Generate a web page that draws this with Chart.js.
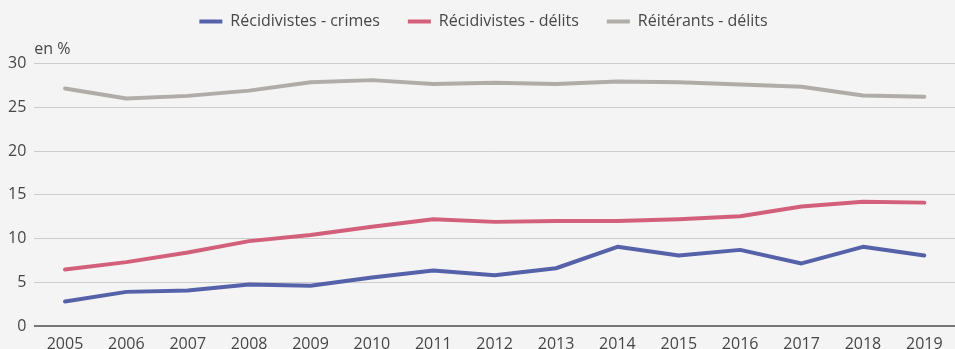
<!DOCTYPE html>
<html>
<head>
<meta charset="utf-8">
<script src="https://cdn.jsdelivr.net/npm/chart.js@4/dist/chart.umd.min.js"></script>
<style>
html,body{margin:0;padding:0;background:#f4f4f4;}
#wrap{width:955px;height:349px;position:relative;}
</style>
</head>
<body>
<div id="wrap"><canvas id="c"></canvas></div>
<script>
const years = ['2005','2006','2007','2008','2009','2010','2011','2012','2013','2014','2015','2016','2017','2018','2019'];
const recidivistesCrimes = [2.8, 3.9, 4.05, 4.75, 4.6, 5.55, 6.35, 5.8, 6.6, 9.05, 8.05, 8.7, 7.15, 9.05, 8.05];
const recidivistesDelits = [6.45, 7.3, 8.4, 9.7, 10.4, 11.35, 12.2, 11.9, 12.0, 12.0, 12.2, 12.55, 13.65, 14.2, 14.1];
const reiterantsDelits = [27.15, 26.0, 26.3, 26.9, 27.85, 28.1, 27.65, 27.8, 27.65, 27.95, 27.85, 27.6, 27.35, 26.35, 26.2];
const seriesNames = ['Récidivistes - crimes', 'Récidivistes - délits', 'Réitérants - délits'];
const yUnit = 'en %';

const FONT = '"Open Sans", "Noto Sans", sans-serif';
const TXT = '#474747';

const unitPlugin = {
  id: 'unit',
  afterDraw(chart) {
    const {ctx, chartArea} = chart;
    ctx.save();
    ctx.font = '16px ' + FONT;
    ctx.fillStyle = TXT;
    ctx.textAlign = 'left';
    ctx.textBaseline = 'alphabetic';
    ctx.fillText(yUnit, chartArea.left, chartArea.top - 10);
    ctx.restore();
  }
};

const legendShift = {
  id: 'legendShift',
  afterLayout(chart) {
    const l = chart.legend;
    if (!l) return;
    const dy = -24, dx = 6;
    l.top += dy; l.bottom += dy;
    l.left += dx; l.right += dx;
  }
};

new Chart(document.getElementById('c'), {
  type: 'line',
  data: {
    labels: years,
    datasets: [
      {label: seriesNames[0], data: recidivistesCrimes, borderColor: '#5562a9', backgroundColor: '#5562a9'},
      {label: seriesNames[1], data: recidivistesDelits, borderColor: '#d3607a', backgroundColor: '#d3607a'},
      {label: seriesNames[2], data: reiterantsDelits, borderColor: '#b0ada8', backgroundColor: '#b0ada8'}
    ]
  },
  options: {
    responsive: true,
    maintainAspectRatio: false,
    animation: false,
    devicePixelRatio: 1,
    layout: {padding: {left: 0, right: 0, top: 9.5, bottom: 0}},
    elements: {
      line: {borderWidth: 4, tension: 0, borderCapStyle: 'round', borderJoinStyle: 'round'},
      point: {radius: 0, hoverRadius: 0}
    },
    plugins: {
      legend: {
        position: 'top',
        align: 'center',
        labels: {
          boxWidth: 23,
          boxHeight: 4,
          padding: 28,
          color: TXT,
          font: {family: FONT, size: 16},
          generateLabels(chart) {
            return Chart.defaults.plugins.legend.labels.generateLabels(chart).map(it => Object.assign(it, {lineWidth: 0}));
          }
        }
      },
      tooltip: {enabled: false}
    },
    scales: {
      x: {
        offset: true,
        grid: {display: false, drawTicks: false},
        border: {display: false},
        ticks: {color: TXT, font: {family: FONT, size: 16, lineHeight: 1}, padding: 10, maxRotation: 0, autoSkip: false},
        afterFit(scale) { scale.height = 23; }
      },
      y: {
        min: 0, max: 30,
        ticks: {stepSize: 5, color: TXT, font: {family: FONT, size: 16}, padding: 8},
        border: {display: false},
        grid: {
          drawTicks: false,
          color: (c) => c.tick && c.tick.value === 0 ? '#777777' : '#cccccc',
          lineWidth: (c) => c.tick && c.tick.value === 0 ? 2 : 1
        }
      }
    }
  },
  plugins: [unitPlugin, legendShift]
});
</script>
</body>
</html>
